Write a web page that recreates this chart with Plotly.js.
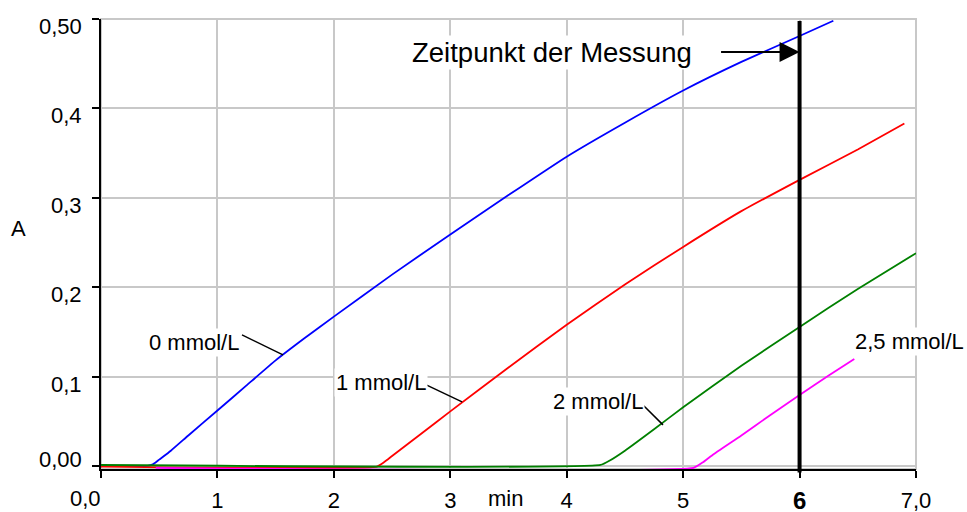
<!DOCTYPE html>
<html><head><meta charset="utf-8">
<script src="https://cdn.plot.ly/plotly-3.0.1.min.js"></script>
<style>html,body{margin:0;padding:0;background:#fff}#chart{width:967px;height:512px}</style>
</head><body><div id="chart"></div>
<script>
// ---- data ----
const seriesNames = ['0 mmol/L', '1 mmol/L', '2 mmol/L', '2,5 mmol/L'];

const x_0 = [0, 0.40, 0.45, 0.5, 0.6, 0.75, 1.0, 1.25, 1.5, 1.75, 2.0, 2.5, 3.0, 3.5, 4.0, 4.5, 5.0, 5.5, 6.0, 6.29];
const y_0 = [0, 0, 0.002, 0.007, 0.017, 0.034, 0.062, 0.090, 0.118, 0.143, 0.167, 0.214, 0.259, 0.303, 0.346, 0.384, 0.420, 0.452, 0.481, 0.498];

const x_1 = [0, 2.37, 2.43, 2.5, 2.75, 3.0, 3.5, 4.0, 4.5, 5.0, 5.5, 6.0, 6.5, 6.9];
const y_1 = [-0.0008, -0.0008, 0.004, 0.011, 0.036, 0.061, 0.110, 0.158, 0.203, 0.245, 0.285, 0.320, 0.354, 0.383];

const x_2 = [0, 4.29, 4.37, 4.5, 4.75, 5.0, 5.5, 6.0, 6.5, 7.0];
const y_2 = [0.001, 0.001, 0.006, 0.017, 0.041, 0.0656, 0.112, 0.1555, 0.198, 0.238];

const x_25 = [0.47, 5.09, 5.17, 5.25, 5.5, 5.75, 6.0, 6.25, 6.47];
const y_25 = [-0.0022, -0.0022, 0.004, 0.012, 0.034, 0.057, 0.0794, 0.101, 0.1197];

const measurementTime = 6;
const measurementLabel = 'Zeitpunkt der Messung';

const xTickVals = [0, 1, 2, 3, 4, 5, 6, 7];
const xTickText = ['', '1', '2', '3', '4', '5', '', '7,0'];
const yTickVals = [0, 0.1, 0.2, 0.3, 0.4, 0.5];
const yTickText = ['0,00', '0,1', '0,2', '0,3', '0,4', '0,50'];
const xAxisLabel = 'min';
const yAxisLabel = 'A';

// ---- styling / layout ----
const FONT = 'Liberation Sans, Arial, sans-serif';
const colors = ['#0000ff', '#ff0000', '#008000', '#ff00ff'];
const xs = [x_0, x_1, x_2, x_25];
const ys = [y_0, y_1, y_2, y_25];
const drawOrder = [0, 1, 3, 2];

const traces = drawOrder.map(i => ({
  type: 'scatter', mode: 'lines', name: seriesNames[i],
  x: xs[i], y: ys[i],
  line: {color: colors[i], width: 1.8, shape: 'spline', smoothing: 0.4},
  hoverinfo: 'skip'
}));

// label positions (text centre) and leader lines [text end -> curve]
const labelPos = [[0.803, 0.1376], [2.405, 0.0928], [4.269, 0.0721], [6.948, 0.1393]];
const leaders = [[1.211, 0.1465, 1.563, 0.1242], [2.757, 0.0928, 3.101, 0.0716], [4.655, 0.0682, 4.827, 0.0459]];

const txt = (s, extra) => Object.assign({font: {family: FONT, size: 22, color: '#000'}, showarrow: false, text: s}, extra);

const annotations = [];
seriesNames.forEach((s, i) => annotations.push(txt(s, {
  xref: 'x', yref: 'y', x: labelPos[i][0], y: labelPos[i][1],
  xanchor: 'center', yanchor: 'middle', bgcolor: '#fff'
})));
annotations.push(txt(measurementLabel, {
  xref: 'x', yref: 'y', x: 3.874, y: 0.462, xanchor: 'center', yanchor: 'middle',
  bgcolor: '#fff', font: {family: FONT, size: 27.5, color: '#000'}
}));
annotations.push({xref: 'x', yref: 'y', x: measurementTime, y: 0.463, text: '',
  showarrow: true, ax: -80, ay: 0, arrowhead: 2, arrowsize: 2, arrowwidth: 2, arrowcolor: '#000'});
annotations.push(txt('0,0', {xref: 'x', yref: 'paper', x: 0, y: 0, xanchor: 'right', yanchor: 'middle', yshift: -29, xshift: 2}));
annotations.push(txt(xAxisLabel, {xref: 'x', yref: 'paper', x: 3.47, y: 0, xanchor: 'center', yanchor: 'middle', yshift: -29}));
annotations.push(txt('<b>6</b>', {xref: 'x', yref: 'paper', x: measurementTime, y: 0, xanchor: 'center', yanchor: 'middle', yshift: -31,
  font: {family: FONT, size: 24, color: '#000'}}));
// y tick labels: the lowest sits above its gridline, the others just below theirs
yTickVals.forEach((v, i) => annotations.push(txt(yTickText[i], {
  xref: 'paper', yref: 'y', x: 0, y: v, xanchor: 'right', yanchor: 'middle',
  xshift: -17, yshift: i === 0 ? 6 : -7.5
})));
annotations.push(txt(yAxisLabel, {xref: 'paper', yref: 'paper', x: -0.1018, y: 0.5345, xanchor: 'center', yanchor: 'middle'}));

const shapes = [{type: 'rect', xref: 'paper', yref: 'paper', x0: 0, y0: 0, x1: 1, y1: 1,
  line: {color: '#c8c8c8', width: 2}, layer: 'below'}];
leaders.forEach(l => shapes.push({type: 'line', xref: 'x', yref: 'y', x0: l[0], y0: l[1], x1: l[2], y1: l[3],
  line: {color: '#000', width: 1.5}}));
shapes.push({type: 'line', xref: 'x', yref: 'paper', x0: measurementTime, x1: measurementTime, y0: -0.008, y1: 0.9955,
  line: {color: '#000', width: 4}, layer: 'above'});

const axisCommon = {
  showline: true, linecolor: '#000', linewidth: 2,
  showgrid: true, gridcolor: '#c8c8c8', gridwidth: 2,
  zeroline: false, ticks: 'outside', ticklen: 7, tickwidth: 2, tickcolor: '#000',
  tickfont: {family: FONT, size: 22, color: '#000'}, tickmode: 'array', fixedrange: true
};

const layout = {
  width: 967, height: 512,
  margin: {l: 101, r: 51, t: 19, b: 43, pad: 0},
  paper_bgcolor: '#fff', plot_bgcolor: '#fff',
  showlegend: false,
  font: {family: FONT, size: 22, color: '#000'},
  xaxis: Object.assign({}, axisCommon, {range: [0, 7], tickvals: xTickVals, ticktext: xTickText, ticklabelstandoff: 4}),
  yaxis: Object.assign({}, axisCommon, {range: [-0.0035, 0.5], tickvals: yTickVals, showticklabels: false}),
  annotations: annotations,
  shapes: shapes
};

Plotly.newPlot('chart', traces, layout, {staticPlot: true, displayModeBar: false});
</script></body></html>
